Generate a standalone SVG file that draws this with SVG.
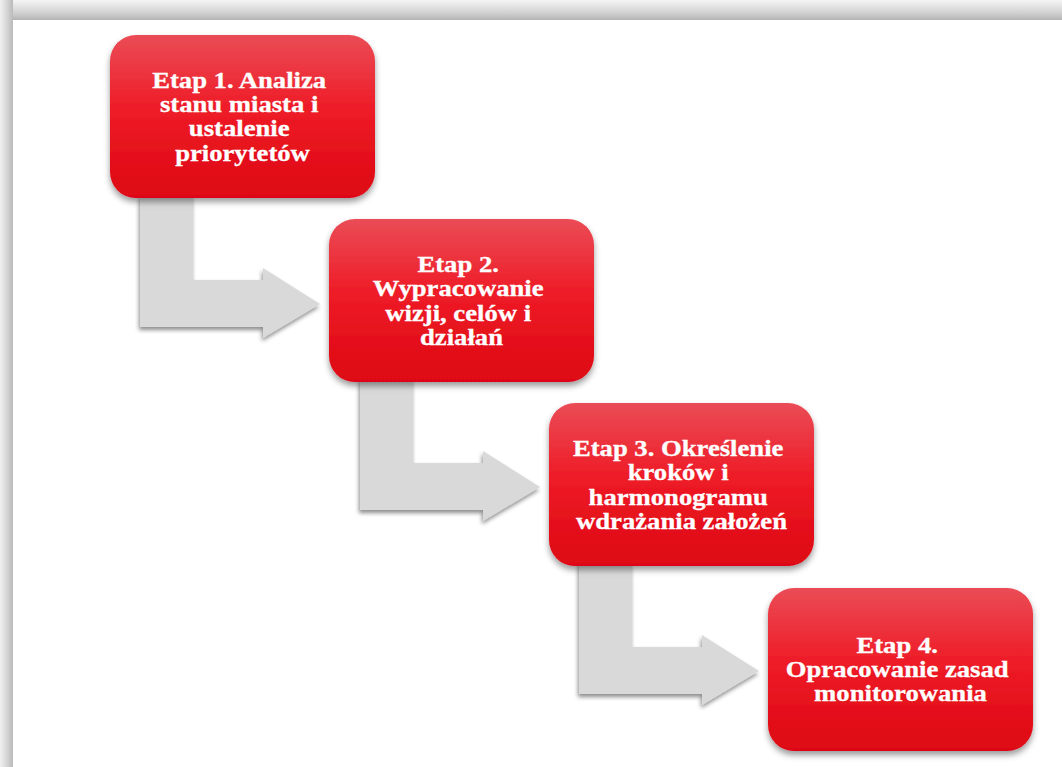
<svg xmlns="http://www.w3.org/2000/svg" width="1062" height="767" viewBox="0 0 1062 767">
  <defs>
    <linearGradient id="boxGrad" x1="0" y1="0" x2="0" y2="1">
      <stop offset="0" stop-color="#ea4c56"/>
      <stop offset="0.45" stop-color="#ee1c27"/>
      <stop offset="1" stop-color="#dd0612"/>
    </linearGradient>
    <linearGradient id="topBand" x1="0" y1="0" x2="0" y2="1">
      <stop offset="0" stop-color="#f4f4f4"/>
      <stop offset="0.3" stop-color="#e4e4e4"/>
      <stop offset="0.65" stop-color="#d0d0d0"/>
      <stop offset="1" stop-color="#b4b4b4"/>
    </linearGradient>
    <linearGradient id="leftBand" x1="0" y1="0" x2="1" y2="0">
      <stop offset="0" stop-color="#f0f0f0"/>
      <stop offset="0.4" stop-color="#dcdcdc"/>
      <stop offset="1" stop-color="#bababa"/>
    </linearGradient>
    <filter id="boxShadow" x="-10%" y="-10%" width="120%" height="130%">
      <feDropShadow dx="0" dy="4" stdDeviation="3" flood-color="#000" flood-opacity="0.4"/>
    </filter>
    <filter id="arrowShadow" x="-10%" y="-10%" width="120%" height="130%">
      <feDropShadow dx="-1" dy="3" stdDeviation="2" flood-color="#000" flood-opacity="0.45"/>
    </filter>
    <path id="bentArrow" d="M0,0 H53 V85 H123 V73 L180,109 L123,143 V132 H0 Z"/>
  </defs>
  <style>
    .box { fill: url(#boxGrad); filter: url(#boxShadow); }
    .arrow { fill: #d9d9d9; filter: url(#arrowShadow); }
    .lbl { font-family: "Liberation Serif", "Times New Roman", serif; font-weight: bold; font-size: 22.6px; fill: #ffffff; text-anchor: middle; stroke: #ffffff; stroke-width: 0.3px; }
  </style>

  <rect x="0" y="0" width="1062" height="767" fill="#ffffff"/>
  <rect x="0" y="0" width="1062" height="20" fill="url(#topBand)"/>
  <rect x="0" y="0" width="13" height="767" fill="url(#leftBand)"/>

  <g id="connectors">
    <use href="#bentArrow" class="arrow" transform="translate(140 195)"/>
    <use href="#bentArrow" class="arrow" transform="translate(360 378)"/>
    <use href="#bentArrow" class="arrow" transform="translate(579 562)"/>
  </g>

  <g id="node1">
    <rect class="box" x="110" y="35" width="265" height="163" rx="26"/>
    <text class="lbl" transform="translate(242.5 0) scale(1.18 1)">
      <tspan x="0" y="87.7">Etap 1. Analiza</tspan>
      <tspan x="0" y="112">stanu miasta i</tspan>
      <tspan x="0" y="136.3">ustalenie</tspan>
      <tspan x="0" y="160.6">priorytetów</tspan>
    </text>
  </g>

  <g id="node2">
    <rect class="box" x="329" y="219" width="265" height="163" rx="26"/>
    <text class="lbl" transform="translate(461.5 0) scale(1.18 1)">
      <tspan x="0" y="272.2">Etap 2.</tspan>
      <tspan x="0" y="296.5">Wypracowanie</tspan>
      <tspan x="0" y="320.8">wizji, celów i</tspan>
      <tspan x="0" y="345.1">działań</tspan>
    </text>
  </g>

  <g id="node3">
    <rect class="box" x="549" y="403" width="265" height="163" rx="26"/>
    <text class="lbl" transform="translate(681.5 0) scale(1.18 1)">
      <tspan x="0" y="456.2">Etap 3. Określenie</tspan>
      <tspan x="0" y="480.5">kroków i</tspan>
      <tspan x="0" y="504.8">harmonogramu</tspan>
      <tspan x="0" y="529.1">wdrażania założeń</tspan>
    </text>
  </g>

  <g id="node4">
    <rect class="box" x="768" y="588" width="265" height="163" rx="26"/>
    <text class="lbl" transform="translate(900.5 0) scale(1.18 1)">
      <tspan x="0" y="653">Etap 4.</tspan>
      <tspan x="0" y="677">Opracowanie zasad</tspan>
      <tspan x="0" y="701">monitorowania</tspan>
    </text>
  </g>
</svg>
